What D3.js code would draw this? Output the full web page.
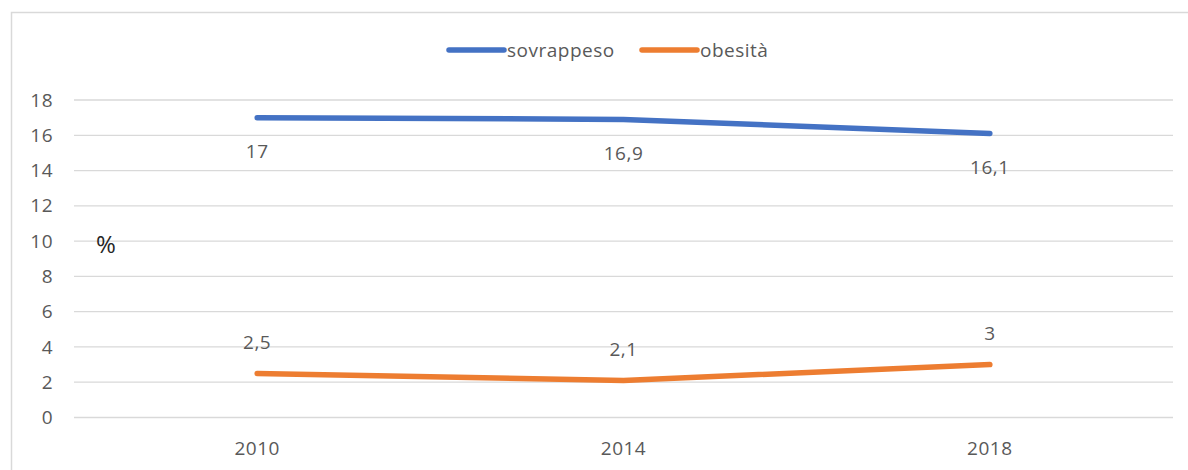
<!DOCTYPE html>
<meta charset="utf-8">
<style>
  body { margin: 0; background: #fff; }
  text { font-family: "Open Sans", sans-serif; fill: #595959; letter-spacing: 0.5px; }
  .grid line { stroke: #d9d9d9; stroke-width: 1.3px; }
  .label { font-size: 19px; text-anchor: middle; }
</style>
<svg width="1188" height="470"></svg>
<script src="https://cdnjs.cloudflare.com/ajax/libs/d3/7.8.5/d3.min.js"></script>
<script>

// data
var years = ['2010', '2014', '2018'];
var sovrappeso = [17, 16.9, 16.1];
var obesita = [2.5, 2.1, 3];
var yTicks = [0, 2, 4, 6, 8, 10, 12, 14, 16, 18];

var series = [
  { name: 'sovrappeso', values: sovrappeso, color: '#4472c4', dy: 34 },
  { name: 'obesità', values: obesita, color: '#ed7d31', dy: -31 }
];

var svg = d3.select('svg');

// chart border
svg.append('rect')
    .attr('x', 11.5).attr('y', 12.5)
    .attr('width', 1190).attr('height', 470)
    .attr('fill', 'none')
    .attr('stroke', '#d9d9d9')
    .attr('stroke-width', 1.5);

var x = d3.scaleBand()
    .domain(years)
    .range([74, 1173]);

var y = d3.scaleLinear()
    .domain([0, 18])
    .range([417.5, 100]);

var cx = function(d) { return x(d) + x.bandwidth() / 2; };

// gridlines
svg.append('g')
    .attr('class', 'grid')
    .selectAll('line')
    .data(yTicks)
    .enter().append('line')
      .attr('x1', 74).attr('x2', 1173)
      .attr('y1', function(d) { return y(d); })
      .attr('y2', function(d) { return y(d); });

// y axis labels
svg.append('g')
    .selectAll('text')
    .data(yTicks)
    .enter().append('text')
      .attr('class', 'label')
      .style('text-anchor', 'end')
      .attr('x', 53)
      .attr('y', function(d) { return y(d); })
      .attr('dy', '0.35em')
      .text(function(d) { return d; });

// x axis labels
svg.append('g')
    .selectAll('text')
    .data(years)
    .enter().append('text')
      .attr('class', 'label')
      .attr('x', cx)
      .attr('y', 448)
      .attr('dy', '0.35em')
      .text(function(d) { return d; });

// % label
svg.append('text')
    .attr('x', 96)
    .attr('y', 245)
    .attr('dy', '0.35em')
    .style('fill', '#262626')
    .style('font-size', '24px')
    .text('%');

var line = d3.line()
    .x(function(d, i) { return cx(years[i]); })
    .y(function(d) { return y(d); });

var fmt = function(v) { return String(v).replace('.', ','); };

series.forEach(function(s) {
  svg.append('path')
      .attr('d', line(s.values))
      .attr('fill', 'none')
      .attr('stroke', s.color)
      .attr('stroke-width', 5.5)
      .attr('stroke-linecap', 'round')
      .attr('stroke-linejoin', 'round');

  svg.append('g')
      .selectAll('text')
      .data(s.values)
      .enter().append('text')
        .attr('class', 'label')
        .attr('x', function(d, i) { return cx(years[i]); })
        .attr('y', function(d) { return y(d) + s.dy; })
        .attr('dy', '0.35em')
        .text(fmt);
});

// legend
var legend = svg.append('g');
var legendX = [449, 642];
series.forEach(function(s, i) {
  legend.append('line')
      .attr('x1', legendX[i]).attr('x2', legendX[i] + 55)
      .attr('y1', 50).attr('y2', 50)
      .attr('stroke', s.color)
      .attr('stroke-width', 5.5)
      .attr('stroke-linecap', 'round');
  legend.append('text')
      .attr('x', legendX[i] + 58)
      .attr('y', 50)
      .attr('dy', '0.35em')
      .style('font-size', '19px')
      .text(s.name);
});

</script>
